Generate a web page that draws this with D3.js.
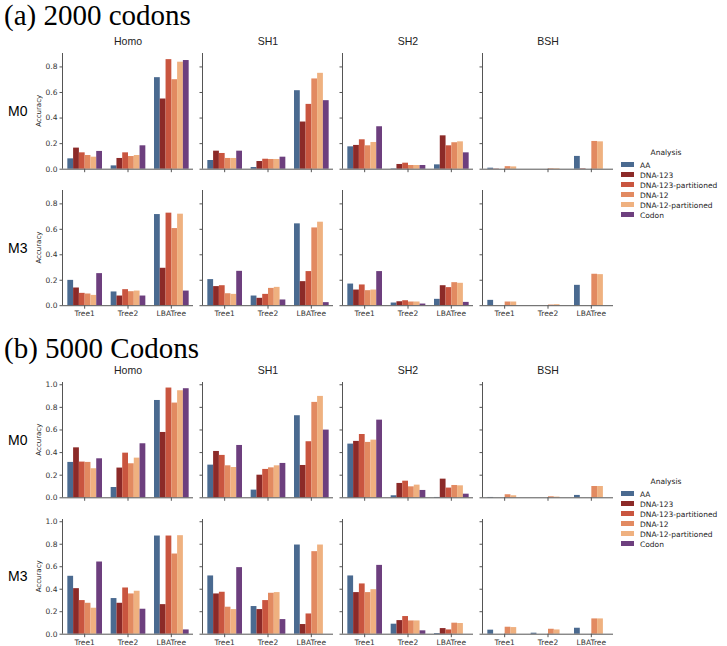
<!DOCTYPE html>
<html><head><meta charset="utf-8">
<script src="https://cdn.jsdelivr.net/npm/d3@7"></script>
<style>body{margin:0;background:#fff}svg{display:block}</style>
</head><body>
<script>
const trees = ["Tree1", "Tree2", "LBATree"];
const analyses = ["AA", "DNA-123", "DNA-123-partitioned", "DNA-12", "DNA-12-partitioned", "Codon"];
const models = ["M0", "M3"];
const scenarios = ["Homo", "SH1", "SH2", "BSH"];
const colors = ["#4a6a90", "#8c2a28", "#c9553f", "#e28a61", "#efb180", "#6d3f7e"];
const ticksA = [0, 0.2, 0.4, 0.6, 0.8];
const ticksB = [0, 0.2, 0.4, 0.6, 0.8, 1.0];

// values[tree][analysis]
// (a) 2000 codons
const a_M0_Homo = [[0.081,0.165,0.128,0.107,0.094,0.139],[0.026,0.084,0.128,0.099,0.107,0.183],[0.716,0.549,0.857,0.700,0.837,0.850]];
const a_M0_SH1  = [[0.068,0.141,0.123,0.084,0.084,0.141],[0.013,0.060,0.078,0.076,0.076,0.094],[0.614,0.369,0.507,0.706,0.750,0.536]];
const a_M0_SH2  = [[0.175,0.186,0.230,0.183,0.209,0.332],[0.003,0.037,0.047,0.029,0.029,0.029],[0.034,0.261,0.183,0.207,0.214,0.128]];
const a_M0_BSH  = [[0.008,0.002,0.000,0.020,0.018,0.000],[0.000,0.000,0.000,0.004,0.004,0.000],[0.100,0.003,0.000,0.217,0.214,0.000]];
const a_M3_Homo = [[0.199,0.139,0.097,0.092,0.081,0.252],[0.108,0.076,0.126,0.110,0.115,0.076],[0.716,0.294,0.727,0.606,0.719,0.115]];
const a_M3_SH1  = [[0.205,0.150,0.157,0.094,0.089,0.270],[0.076,0.058,0.089,0.136,0.144,0.045],[0.643,0.189,0.268,0.611,0.656,0.024]];
const a_M3_SH2  = [[0.170,0.123,0.163,0.118,0.123,0.268],[0.021,0.031,0.039,0.029,0.029,0.013],[0.050,0.157,0.142,0.181,0.176,0.026]];
const a_M3_BSH  = [[0.042,0.000,0.000,0.029,0.029,0.000],[0.000,0.000,0.000,0.005,0.008,0.000],[0.160,0.000,0.000,0.247,0.244,0.000]];
// (b) 5000 codons
const b_M0_Homo = [[0.313,0.442,0.316,0.313,0.257,0.345],[0.091,0.263,0.395,0.301,0.351,0.478],[0.861,0.578,0.971,0.838,0.947,0.965]];
const b_M0_SH1  = [[0.289,0.410,0.375,0.283,0.268,0.463],[0.068,0.200,0.251,0.265,0.283,0.304],[0.726,0.286,0.496,0.844,0.897,0.599]];
const b_M0_SH2  = [[0.475,0.499,0.560,0.490,0.510,0.687],[0.018,0.127,0.147,0.097,0.112,0.065],[0.003,0.165,0.086,0.109,0.106,0.032]];
const b_M0_BSH  = [[0.003,0.000,0.000,0.027,0.018,0.000],[0.000,0.000,0.000,0.009,0.006,0.000],[0.021,0.000,0.000,0.100,0.100,0.000]];
const b_M3_Homo = [[0.515,0.405,0.299,0.275,0.231,0.642],[0.317,0.275,0.411,0.358,0.382,0.222],[0.873,0.263,0.873,0.713,0.876,0.038]];
const b_M3_SH1  = [[0.518,0.358,0.373,0.240,0.219,0.592],[0.246,0.219,0.299,0.364,0.370,0.130],[0.793,0.086,0.180,0.734,0.793,0.000]];
const b_M3_SH2  = [[0.518,0.370,0.447,0.370,0.396,0.612],[0.089,0.121,0.157,0.118,0.118,0.030],[0.006,0.050,0.038,0.098,0.095,0.000]];
const b_M3_BSH  = [[0.036,0.000,0.000,0.062,0.059,0.000],[0.009,0.000,0.000,0.044,0.038,0.000],[0.053,0.000,0.000,0.136,0.136,0.000]];

const sections = [
  {title: "(a) 2000 codons", ymax: 0.905, ticks: ticksA, titleY: 25, colTitleY: 45, rows: [
    {label: "M0", top: 53, bottom: 168.7, data: [a_M0_Homo, a_M0_SH1, a_M0_SH2, a_M0_BSH]},
    {label: "M3", top: 190, bottom: 305.2, data: [a_M3_Homo, a_M3_SH1, a_M3_SH2, a_M3_BSH]}],
   legendY: 155},
  {title: "(b) 5000 Codons", ymax: 1.02, ticks: ticksB, titleY: 358, colTitleY: 374, rows: [
    {label: "M0", top: 382, bottom: 497.3, data: [b_M0_Homo, b_M0_SH1, b_M0_SH2, b_M0_BSH]},
    {label: "M3", top: 519, bottom: 633.7, data: [b_M3_Homo, b_M3_SH1, b_M3_SH2, b_M3_BSH]}],
   legendY: 484}
];

const W = 727, H = 646;
const svg = d3.select("body").append("svg").attr("width", W).attr("height", H);
const colX = [63, 203, 343, 483];
const panelW = 130;
const tickFont = "DejaVu Sans, sans-serif";
const axisColor = "#555";
const color = d3.scaleOrdinal().domain(analyses).range(colors);

sections.forEach(sec => {
  svg.append("text").attr("x", 4).attr("y", sec.titleY)
    .attr("font-family", "Liberation Serif, Times New Roman, serif")
    .attr("font-size", 29).attr("fill", "#000").text(sec.title);
  scenarios.forEach((s, ci) => {
    svg.append("text").attr("x", colX[ci] + panelW / 2).attr("y", sec.colTitleY)
      .attr("text-anchor", "middle").attr("font-family", "Liberation Sans, Arial, sans-serif")
      .attr("font-size", 10.5).attr("fill", "#222").text(s);
  });
  sec.rows.forEach((row, ri) => {
    const y = d3.scaleLinear().domain([0, sec.ymax]).range([row.bottom, row.top]);
    svg.append("text").attr("x", 8).attr("y", (row.top + row.bottom) / 2 + 5)
      .attr("font-family", "Liberation Sans, Arial, sans-serif").attr("font-size", 14)
      .attr("fill", "#000").text(row.label);
    svg.append("text")
      .attr("transform", `translate(${colX[0] - 22},${(row.top + row.bottom) / 2}) rotate(-90)`)
      .attr("text-anchor", "middle").attr("font-family", tickFont).attr("font-size", 7)
      .attr("fill", "#222").text("Accuracy");
    scenarios.forEach((s, ci) => {
      const x0 = colX[ci];
      const x = d3.scaleBand().domain(trees).range([x0, x0 + panelW]).paddingInner(0.2).paddingOuter(0.1);
      const xs = d3.scaleBand().domain(analyses).range([0, x.bandwidth()]);
      const g = svg.append("g");
      const vals = row.data[ci];
      trees.forEach((t, ti) => {
        g.selectAll(null).data(analyses).enter().append("rect")
          .attr("x", a => x(t) + xs(a))
          .attr("width", xs.bandwidth())
          .attr("y", (a, ai) => y(vals[ti][ai]))
          .attr("height", (a, ai) => row.bottom - y(vals[ti][ai]))
          .attr("fill", a => color(a));
      });
      const ya = g.append("g").attr("transform", `translate(${x0},0)`)
        .call(d3.axisLeft(y).tickValues(sec.ticks).tickFormat(d3.format(".1f")).tickSize(3.5).tickPadding(2));
      ya.select(".domain").attr("d", `M-0.5,${row.top}V${row.bottom}`);
      const xa = g.append("g").attr("transform", `translate(0,${row.bottom})`)
        .call(d3.axisBottom(x).tickSize(3.5).tickPadding(2).tickSizeOuter(0));
      xa.select(".domain").attr("d", `M${x0},0.5H${x0 + panelW}`);
      [ya, xa].forEach(ax => {
        ax.selectAll("path,line").attr("stroke", axisColor).attr("stroke-width", 1);
        ax.selectAll("text").attr("font-family", tickFont).attr("font-size", 7.5).attr("fill", "#333");
      });
      if (ci > 0) ya.selectAll("text").remove();
      if (ri === 0) xa.selectAll("text").remove();
    });
  });
  const lg = svg.append("g").attr("transform", `translate(621,${sec.legendY})`);
  lg.append("text").attr("x", 45).attr("y", 0).attr("text-anchor", "middle")
    .attr("font-family", tickFont).attr("font-size", 7.5).attr("fill", "#222").text("Analysis");
  analyses.forEach((a, i) => {
    lg.append("rect").attr("x", 0).attr("y", 7 + i * 10).attr("width", 13).attr("height", 5).attr("fill", color(a));
    lg.append("text").attr("x", 19).attr("y", 12.5 + i * 10).attr("font-family", tickFont)
      .attr("font-size", 7.5).attr("fill", "#222").text(a);
  });
});
</script>
</body></html>
